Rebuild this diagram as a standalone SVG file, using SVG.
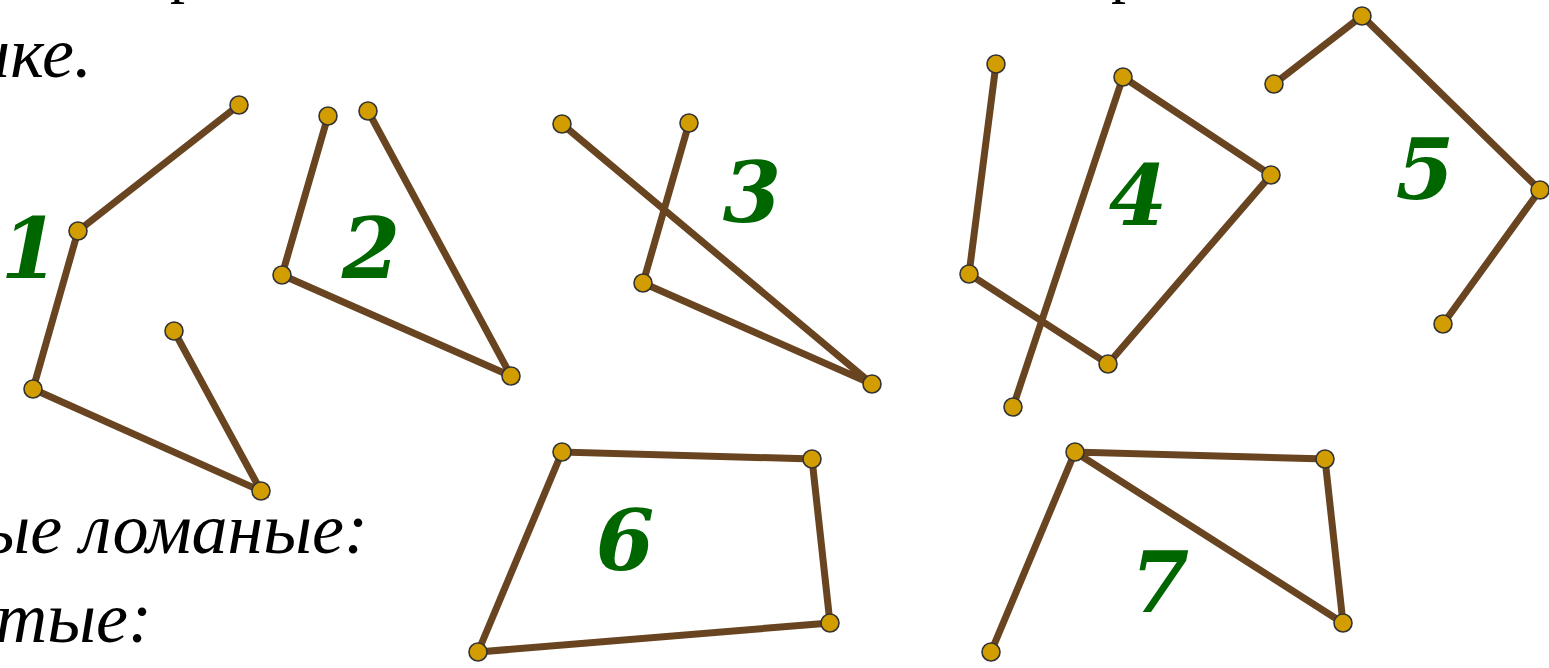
<svg xmlns="http://www.w3.org/2000/svg" width="1549" height="668" viewBox="0 0 1549 668">
<style>
.seg{fill:none;stroke:#684421;stroke-width:7;stroke-linejoin:miter;stroke-linecap:butt}
.pt{fill:#d29d00;stroke:#333333;stroke-width:1.6}
.num{font-family:"DejaVu Serif",serif;font-weight:bold;font-style:italic;font-size:84px;fill:#006600;text-anchor:middle}
.txt{font-family:"Liberation Serif",serif;font-style:italic;font-size:72px;fill:#000}
.top{font-family:"Liberation Serif",serif;font-size:60px;fill:#000}
</style>
<rect width="1549" height="668" fill="#fff"/>
<g id="text">
<text class="top" x="170" y="-9">р</text>
<text class="top" x="1111" y="-9">р</text>
<text class="txt" x="92" y="77" text-anchor="end">рисунке.</text>
<text class="txt" x="368" y="553" text-anchor="end">Замкнутые ломаные:</text>
<text class="txt" x="152" y="642" text-anchor="end">Незамкнутые:</text>
</g>
<g id="connectors">
<polyline class="seg" points="239,105 78,231 33,389 261,491 174,331"/>
<polyline class="seg" points="328,116 282,275 511,376 368,111"/>
<polyline class="seg" points="562,124 872,384 643,283 689,123"/>
<polyline class="seg" points="996,64 969,274 1108,364 1271,175 1123,77 1013,407"/>
<polyline class="seg" points="1274,84 1362,16 1540,190 1443,324"/>
<polygon class="seg" points="478,652 562,452 812,459 830,623"/>
<polyline class="seg" points="991,652 1075,452 1325,459 1343,623 1075,452"/>
</g>
<g id="node1">
<circle class="pt" cx="239" cy="105" r="9"/><circle class="pt" cx="78" cy="231" r="9"/><circle class="pt" cx="33" cy="389" r="9"/><circle class="pt" cx="261" cy="491" r="9"/><circle class="pt" cx="174" cy="331" r="9"/>
<text class="num" x="30" y="278">1</text>
</g>
<g id="node2">
<circle class="pt" cx="328" cy="116" r="9"/><circle class="pt" cx="282" cy="275" r="9"/><circle class="pt" cx="511" cy="376" r="9"/><circle class="pt" cx="368" cy="111" r="9"/>
<text class="num" x="371" y="278">2</text>
</g>
<g id="node3">
<circle class="pt" cx="562" cy="124" r="9"/><circle class="pt" cx="872" cy="384" r="9"/><circle class="pt" cx="643" cy="283" r="9"/><circle class="pt" cx="689" cy="123" r="9"/>
<text class="num" x="752" y="222">3</text>
</g>
<g id="node4">
<circle class="pt" cx="996" cy="64" r="9"/><circle class="pt" cx="969" cy="274" r="9"/><circle class="pt" cx="1108" cy="364" r="9"/><circle class="pt" cx="1271" cy="175" r="9"/><circle class="pt" cx="1123" cy="77" r="9"/><circle class="pt" cx="1013" cy="407" r="9"/>
<text class="num" x="1138" y="225">4</text>
</g>
<g id="node5">
<circle class="pt" cx="1274" cy="84" r="9"/><circle class="pt" cx="1362" cy="16" r="9"/><circle class="pt" cx="1540" cy="190" r="9"/><circle class="pt" cx="1443" cy="324" r="9"/>
<text class="num" x="1425" y="199">5</text>
</g>
<g id="node6">
<circle class="pt" cx="478" cy="652" r="9"/><circle class="pt" cx="562" cy="452" r="9"/><circle class="pt" cx="812" cy="459" r="9"/><circle class="pt" cx="830" cy="623" r="9"/>
<text class="num" x="625" y="570">6</text>
</g>
<g id="node7">
<circle class="pt" cx="991" cy="652" r="9"/><circle class="pt" cx="1075" cy="452" r="9"/><circle class="pt" cx="1325" cy="459" r="9"/><circle class="pt" cx="1343" cy="623" r="9"/>
<text class="num" x="1160" y="612">7</text>
</g>
</svg>
